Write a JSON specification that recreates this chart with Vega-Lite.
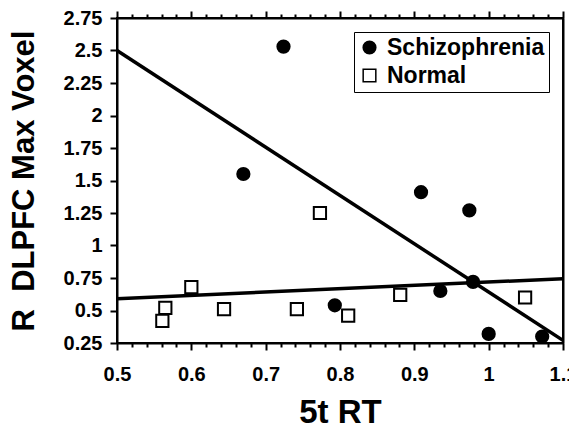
{
  "$schema": "https://vega.github.io/schema/vega-lite/v6.json",
  "width": 569,
  "height": 424,
  "autosize": {"type": "fit", "contains": "padding"},
  "padding": {"left": 8, "top": 8, "right": -8, "bottom": -5},
  "config": {
    "view": {"stroke": null},
    "font": "Liberation Sans",
    "axis": {
      "domainColor": "black",
      "domainWidth": 2,
      "tickColor": "black",
      "tickWidth": 2,
      "labelColor": "black",
      "labelFont": "Liberation Sans",
      "labelFontWeight": "bold",
      "labelFontSize": 20,
      "titleColor": "black",
      "titleFont": "Liberation Sans",
      "titleFontWeight": "bold",
      "grid": false,
      "labelOverlap": false,
      "labelFlush": false
    },
    "legend": {
      "labelFont": "Liberation Sans",
      "labelFontWeight": "bold",
      "labelFontSize": 23,
      "labelColor": "black"
    }
  },
  "datasets": {
    "points": [
      {"group": "Schizophrenia", "rt": 0.724, "voxel": 2.53},
      {"group": "Schizophrenia", "rt": 0.670, "voxel": 1.55},
      {"group": "Schizophrenia", "rt": 0.909, "voxel": 1.41},
      {"group": "Schizophrenia", "rt": 0.974, "voxel": 1.27},
      {"group": "Schizophrenia", "rt": 0.979, "voxel": 0.72},
      {"group": "Schizophrenia", "rt": 0.935, "voxel": 0.65},
      {"group": "Schizophrenia", "rt": 0.793, "voxel": 0.54},
      {"group": "Schizophrenia", "rt": 1.000, "voxel": 0.32},
      {"group": "Schizophrenia", "rt": 1.072, "voxel": 0.30},
      {"group": "Normal", "rt": 0.773, "voxel": 1.25},
      {"group": "Normal", "rt": 0.600, "voxel": 0.68},
      {"group": "Normal", "rt": 0.565, "voxel": 0.52},
      {"group": "Normal", "rt": 0.561, "voxel": 0.42},
      {"group": "Normal", "rt": 0.644, "voxel": 0.51},
      {"group": "Normal", "rt": 0.742, "voxel": 0.51},
      {"group": "Normal", "rt": 0.811, "voxel": 0.46},
      {"group": "Normal", "rt": 0.881, "voxel": 0.62},
      {"group": "Normal", "rt": 1.049, "voxel": 0.60}
    ],
    "fits": [
      {"group": "Schizophrenia", "rt": 0.5, "voxel": 2.5},
      {"group": "Schizophrenia", "rt": 1.1, "voxel": 0.27},
      {"group": "Normal", "rt": 0.5, "voxel": 0.59},
      {"group": "Normal", "rt": 1.1, "voxel": 0.745}
    ]
  },
  "resolve": {"axis": {"x": "independent", "y": "independent"}},
  "layer": [
    {
      "data": {"name": "points"},
      "mark": {"type": "point", "opacity": 0},
      "encoding": {
        "x": {
          "field": "rt", "type": "quantitative",
          "scale": {"domain": [0.5, 1.1], "nice": false, "zero": false},
          "axis": {
            "orient": "bottom", "title": null, "labels": false, "domain": false,
            "values": [0.52,0.54,0.56,0.58,0.62,0.64,0.66,0.68,0.72,0.74,0.76,0.78,0.82,0.84,0.86,0.88,0.92,0.94,0.96,0.98,1.02,1.04,1.06,1.08],
            "tickSize": 4
          }
        },
        "y": {
          "field": "voxel", "type": "quantitative",
          "scale": {"domain": [0.25, 2.75], "nice": false, "zero": false},
          "axis": null
        }
      }
    },
    {
      "data": {"name": "points"},
      "mark": {"type": "point", "opacity": 0},
      "encoding": {
        "x": {
          "field": "rt", "type": "quantitative",
          "axis": {
            "orient": "top", "title": null, "labels": false, "domain": false,
            "values": [0.52,0.54,0.56,0.58,0.62,0.64,0.66,0.68,0.72,0.74,0.76,0.78,0.82,0.84,0.86,0.88,0.92,0.94,0.96,0.98,1.02,1.04,1.06,1.08],
            "tickSize": 4
          }
        },
        "y": {"field": "voxel", "type": "quantitative", "axis": null}
      }
    },
    {
      "data": {"values": [{}]},
      "mark": {"type": "rect", "filled": false, "stroke": "black", "strokeWidth": 2},
      "encoding": {
        "x": {"datum": 0.5, "type": "quantitative", "axis": null},
        "x2": {"datum": 1.1},
        "y": {"datum": 0.25, "type": "quantitative", "axis": null},
        "y2": {"datum": 2.75}
      }
    },
    {
      "data": {"name": "fits"},
      "mark": {"type": "line", "color": "black", "strokeWidth": 3.5},
      "encoding": {
        "x": {
          "field": "rt", "type": "quantitative",
          "axis": {
            "orient": "top", "title": null, "labels": false,
            "values": [0.5,0.6,0.7,0.8,0.9,1,1.1],
            "tickSize": 7
          }
        },
        "y": {
          "field": "voxel", "type": "quantitative",
          "axis": {
            "orient": "right", "title": null, "labels": false,
            "values": [0.25,0.5,0.75,1,1.25,1.5,1.75,2,2.25,2.5,2.75],
            "tickSize": 0
          }
        },
        "detail": {"field": "group", "type": "nominal"}
      }
    },
    {
      "data": {"name": "points"},
      "mark": {"type": "point", "filled": true, "stroke": "black", "strokeWidth": 2, "opacity": 1, "size": 150},
      "encoding": {
        "x": {
          "field": "rt", "type": "quantitative",
          "axis": {
            "orient": "bottom", "title": "5t RT", "titleFontSize": 33, "titlePadding": 12,
            "values": [0.5,0.6,0.7,0.8,0.9,1,1.1],
            "format": ".3~g", "tickSize": 7, "labelPadding": 14
          }
        },
        "y": {
          "field": "voxel", "type": "quantitative",
          "axis": {
            "orient": "left", "title": "R\u00a0\u00a0DLPFC Max Voxel", "titleFontSize": 31, "titlePadding": 23,
            "values": [0.25,0.5,0.75,1,1.25,1.5,1.75,2,2.25,2.5,2.75],
            "format": ".3~g", "tickSize": 7, "labelPadding": 8
          }
        },
        "fill": {
          "field": "group", "type": "nominal",
          "scale": {"domain": ["Schizophrenia", "Normal"], "range": ["black", "white"]},
          "legend": {
            "title": null, "orient": "top-right", "offset": 14,
            "strokeColor": "black", "fillColor": "white", "padding": 4,
            "symbolSize": 160, "labelOffset": 6, "rowPadding": 4,
            "encode": {"symbols": {"update": {"stroke": {"value": "black"}, "strokeWidth": {"value": 2}}}}
          }
        },
        "shape": {
          "field": "group", "type": "nominal",
          "scale": {"domain": ["Schizophrenia", "Normal"], "range": ["circle", "square"]},
          "legend": {
            "title": null, "orient": "top-right", "offset": 14,
            "strokeColor": "black", "fillColor": "white", "padding": 4,
            "symbolSize": 160, "labelOffset": 6, "rowPadding": 4,
            "encode": {"symbols": {"update": {"stroke": {"value": "black"}, "strokeWidth": {"value": 2}}}}
          }
        }
      }
    }
  ]
}
